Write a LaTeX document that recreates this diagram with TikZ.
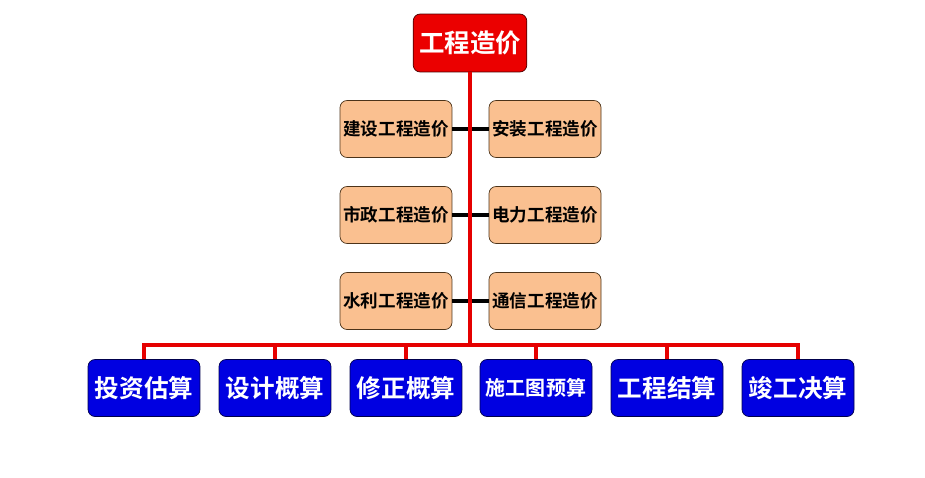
\documentclass[tikz,border=0pt]{standalone}
\usepackage{fontspec}
\setmainfont{Noto Sans CJK SC}[BoldFont={* Bold}]
\tikzset{
  topbox/.style={draw=black!70!red,fill=red!92!black,rounded corners=4pt,minimum width=2.26cm,minimum height=1.16cm,text=white,font=\bfseries\fontsize{14.5}{16}\selectfont},
  kindbox/.style={draw=black!60!brown,fill={rgb,255:red,250;green,192;blue,144},rounded corners=4pt,minimum width=2.24cm,minimum height=1.14cm,inner sep=1pt,font=\bfseries\fontsize{10}{12}\selectfont},
  stagebox/.style={draw=black!70!blue,fill={rgb,255:red,0;green,0;blue,225},rounded corners=4pt,minimum width=2.24cm,minimum height=1.14cm,inner sep=1pt,text=white,font=\bfseries\fontsize{14}{16}\selectfont},
  redline/.style={draw=red!90!black,line width=1.8pt},
  blackline/.style={draw=black,line width=2.2pt}
}
\begin{document}
\begin{tikzpicture}[x=0.02cm,y=-0.02cm]
    \useasboundingbox (0,0) rectangle (925,477);

    \node[topbox] (top) at (470,43) {工程造价};

    \node[kindbox] (l1) at (396,129) {建设工程造价};
    \node[kindbox] (r1) at (545,129) {安装工程造价};
    \node[kindbox] (l2) at (396,215) {市政工程造价};
    \node[kindbox] (r2) at (545,215) {电力工程造价};
    \node[kindbox] (l3) at (396,301) {水利工程造价};
    \node[kindbox] (r3) at (545,301) {通信工程造价};

    \node[stagebox] (s1) at (144,388) {投资估算};
    \node[stagebox] (s2) at (275,388) {设计概算};
    \node[stagebox] (s3) at (406,388) {修正概算};
    \node[stagebox,font=\bfseries\fontsize{11.4}{13}\selectfont] (s4) at (536,388) {施工图预算};
    \node[stagebox] (s5) at (667,388) {工程结算};
    \node[stagebox] (s6) at (798,388) {竣工决算};

    \coordinate (hub) at (470,345);

    \foreach \i in {1,2,3}
      \draw[blackline] (l\i.east) -- (r\i.west);

    \draw[redline] (top.south) -- (hub);
    \foreach \i in {1,...,6}
      \draw[redline] (hub) -| (s\i.north);
\end{tikzpicture}
\end{document}
